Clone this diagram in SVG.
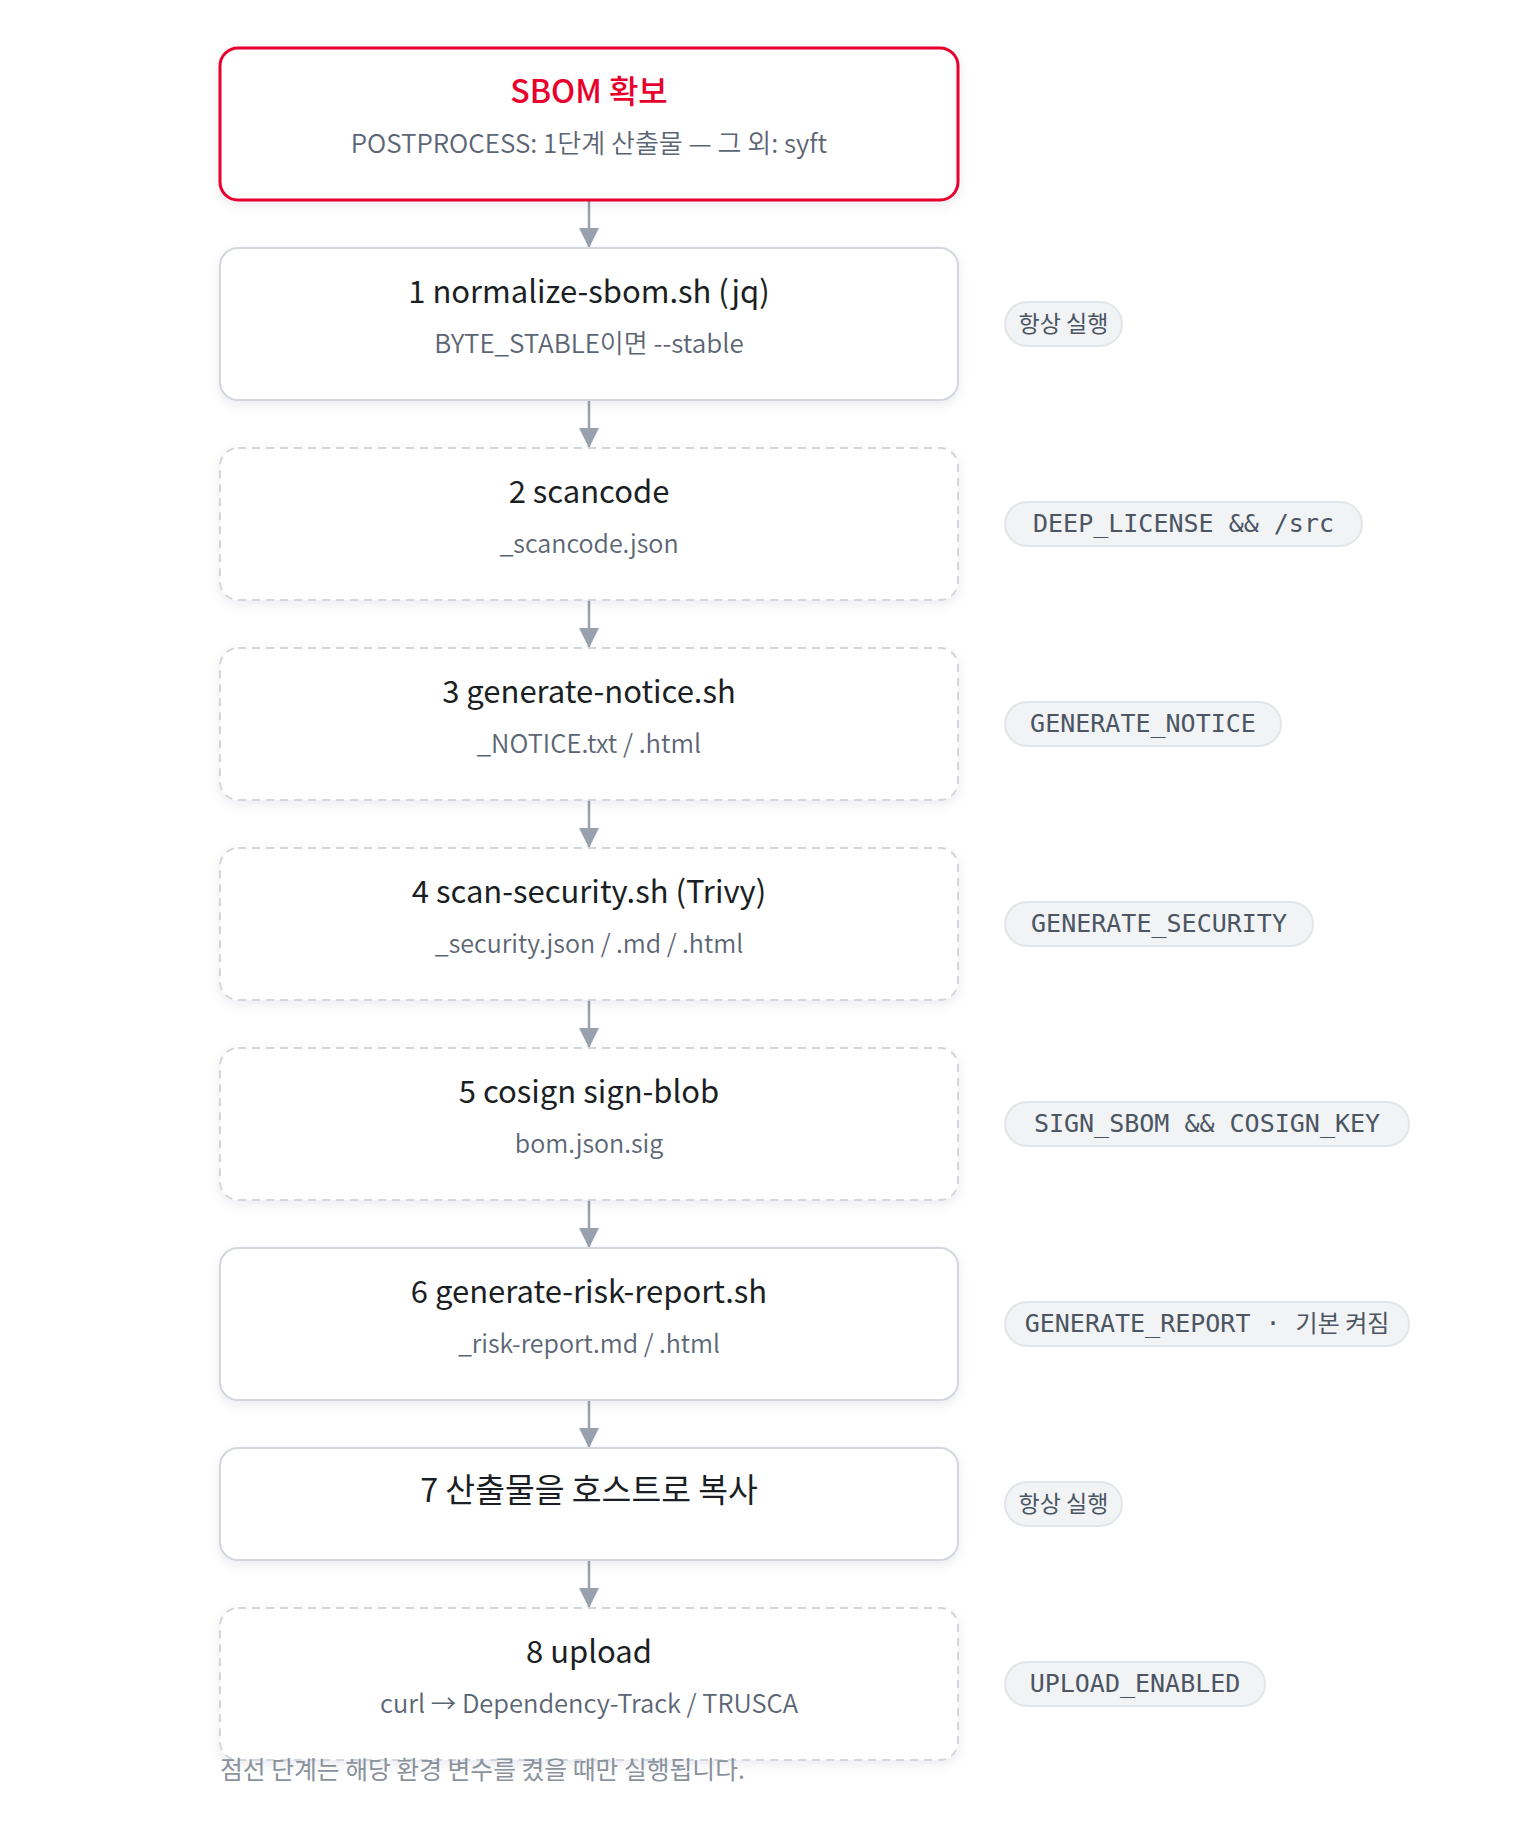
<svg xmlns="http://www.w3.org/2000/svg" width="1520" height="1840" viewBox="0 0 1520 1840">
<defs>
<filter id="sh" x="-10%" y="-20%" width="120%" height="150%">
<feDropShadow dx="0" dy="4" stdDeviation="6" flood-color="#1f2937" flood-opacity="0.08"/>
</filter>
<marker id="ah" markerWidth="20" markerHeight="20" viewBox="0 0 20 20" refX="20" refY="10" orient="auto" markerUnits="userSpaceOnUse">
<path d="M0,0 L20,10 L0,20 Z" fill="#98a2ae"/>
</marker>
<style>
.box{fill:#ffffff;stroke:#d2d7de;stroke-width:2;filter:url(#sh)}
.dash{stroke-dasharray:8 6}
.red{fill:#ffffff;stroke:#e8002d;stroke-width:3;filter:url(#sh)}
.t{font-family:"Noto Sans CJK KR","Noto Sans",sans-serif;font-size:31px;fill:#1b1f24;text-anchor:middle;font-weight:400}
.rt{font-family:"Noto Sans CJK KR","Noto Sans",sans-serif;font-size:32px;fill:#e8002d;text-anchor:middle;font-weight:500}
.s{font-family:"Noto Sans CJK KR","Noto Sans",sans-serif;font-size:26px;fill:#5b6574;text-anchor:middle;font-weight:350}
.s.sl{font-size:25px}
.pill{fill:#f1f3f5;stroke:#e2e5ea;stroke-width:2}
.pm{font-family:"DejaVu Sans Mono","Noto Sans CJK KR",monospace;font-size:25px;fill:#4b5563;text-anchor:middle}
.pk{font-family:"Noto Sans CJK KR",sans-serif;font-size:23px;fill:#4b5563;text-anchor:middle}
.c{stroke:#98a2ae;stroke-width:2.5;fill:none}
.note{font-family:"Noto Sans CJK KR",sans-serif;font-size:24.8px;fill:#8a929c}
</style>
</defs>
<g id="connectors">
<line class="c" x1="589" y1="200" x2="589" y2="248" marker-end="url(#ah)"/>
<line class="c" x1="589" y1="400" x2="589" y2="448" marker-end="url(#ah)"/>
<line class="c" x1="589" y1="600" x2="589" y2="648" marker-end="url(#ah)"/>
<line class="c" x1="589" y1="800" x2="589" y2="848" marker-end="url(#ah)"/>
<line class="c" x1="589" y1="1000" x2="589" y2="1048" marker-end="url(#ah)"/>
<line class="c" x1="589" y1="1200" x2="589" y2="1248" marker-end="url(#ah)"/>
<line class="c" x1="589" y1="1400" x2="589" y2="1448" marker-end="url(#ah)"/>
<line class="c" x1="589" y1="1560" x2="589" y2="1608" marker-end="url(#ah)"/>
</g>
<g id="sbom">
<rect class="red" x="220" y="48" width="738" height="152" rx="18"/>
<text class="rt" x="589" y="103">SBOM 확보</text>
<text class="s" x="589" y="153">POSTPROCESS: 1단계 산출물 — 그 외: syft</text>
</g>
<g id="step1">
<rect class="box" x="220" y="248" width="738" height="152" rx="18"/>
<text class="t" x="589" y="303">1 normalize-sbom.sh (jq)</text>
<text class="s" x="589" y="353">BYTE_STABLE이면 --stable</text>
<rect class="pill" x="1005" y="302" width="117" height="44" rx="22"/>
<text class="pk" x="1063.5" y="332">항상 실행</text>
</g>
<g id="step2">
<rect class="box dash" x="220" y="448" width="738" height="152" rx="18"/>
<text class="t" x="589" y="503">2 scancode</text>
<text class="s sl" x="589" y="553">_scancode.json</text>
<rect class="pill" x="1005" y="502" width="357" height="44" rx="22"/>
<text class="pm" x="1183.5" y="532">DEEP_LICENSE &amp;&amp; /src</text>
</g>
<g id="step3">
<rect class="box dash" x="220" y="648" width="738" height="152" rx="18"/>
<text class="t" x="589" y="703">3 generate-notice.sh</text>
<text class="s" x="589" y="753" style="font-size:25.6px">_NOTICE.txt / .html</text>
<rect class="pill" x="1005" y="702" width="276" height="44" rx="22"/>
<text class="pm" x="1143" y="732">GENERATE_NOTICE</text>
</g>
<g id="step4">
<rect class="box dash" x="220" y="848" width="738" height="152" rx="18"/>
<text class="t" x="589" y="903">4 scan-security.sh (Trivy)</text>
<text class="s sl" x="589" y="953">_security.json / .md / .html</text>
<rect class="pill" x="1005" y="902" width="308" height="44" rx="22"/>
<text class="pm" x="1159" y="932">GENERATE_SECURITY</text>
</g>
<g id="step5">
<rect class="box dash" x="220" y="1048" width="738" height="152" rx="18"/>
<text class="t" x="589" y="1103">5 cosign sign-blob</text>
<text class="s sl" x="589" y="1153">bom.json.sig</text>
<rect class="pill" x="1005" y="1102" width="404" height="44" rx="22"/>
<text class="pm" x="1207" y="1132">SIGN_SBOM &amp;&amp; COSIGN_KEY</text>
</g>
<g id="step6">
<rect class="box" x="220" y="1248" width="738" height="152" rx="18"/>
<text class="t" x="589" y="1303">6 generate-risk-report.sh</text>
<text class="s sl" x="589" y="1353">_risk-report.md / .html</text>
<rect class="pill" x="1005" y="1302" width="404" height="44" rx="22"/>
<text class="pm" x="1207" y="1332">GENERATE_REPORT · <tspan style="font-family:'Noto Sans CJK KR',sans-serif;font-size:24px">기본 켜짐</tspan></text>
</g>
<g id="step7">
<rect class="box" x="220" y="1448" width="738" height="112" rx="18"/>
<text class="t" x="589" y="1502" style="font-size:32.4px">7 산출물을 호스트로 복사</text>
<rect class="pill" x="1005" y="1482" width="117" height="44" rx="22"/>
<text class="pk" x="1063.5" y="1512">항상 실행</text>
</g>
<g id="step8">
<rect class="box dash" x="220" y="1608" width="738" height="152" rx="18"/>
<text class="t" x="589" y="1663">8 upload</text>
<text class="s" x="589" y="1713" style="font-size:25.5px">curl → Dependency-Track / TRUSCA</text>
<rect class="pill" x="1005" y="1662" width="260" height="44" rx="22"/>
<text class="pm" x="1135" y="1692">UPLOAD_ENABLED</text>
</g>
<g id="footnote">
<text class="note" x="220" y="1779">점선 단계는 해당 환경 변수를 켰을 때만 실행됩니다.</text>
</g>
</svg>
